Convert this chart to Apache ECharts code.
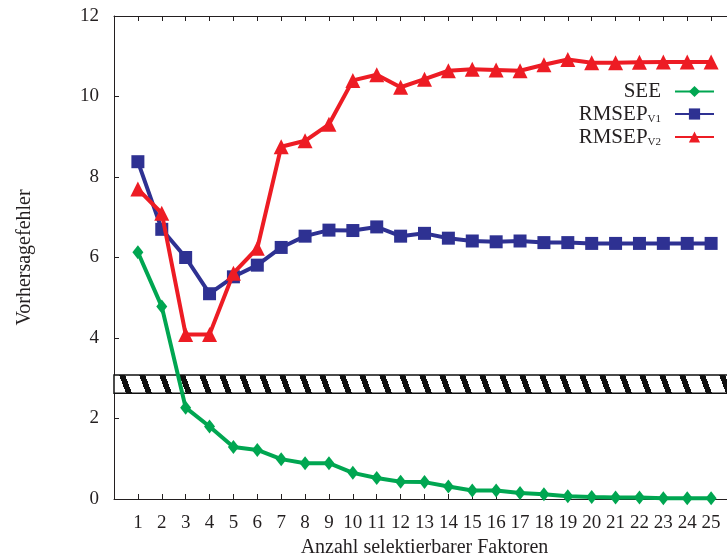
<!DOCTYPE html>
<html>
<head>
<meta charset="utf-8">
<script src="https://cdn.jsdelivr.net/npm/echarts@6/dist/echarts.min.js"></script>
<style>html,body{margin:0;padding:0;background:#fff;}#c{width:727px;height:557px;}</style>
</head>
<body>
<div id="c"></div>
<script>
const factors = [1,2,3,4,5,6,7,8,9,10,11,12,13,14,15,16,17,18,19,20,21,22,23,24,25];
const see = [6.13,4.78,2.27,1.80,1.29,1.22,0.99,0.89,0.89,0.65,0.52,0.43,0.42,0.31,0.21,0.21,0.15,0.12,0.07,0.05,0.04,0.04,0.02,0.02,0.02];
const rmsepV1 = [8.38,6.70,6.00,5.10,5.52,5.81,6.25,6.53,6.68,6.67,6.76,6.53,6.60,6.48,6.41,6.39,6.41,6.37,6.37,6.35,6.35,6.35,6.35,6.35,6.35];
const rmsepV2 = [7.70,7.10,4.09,4.09,5.61,6.23,8.75,8.90,9.31,10.40,10.54,10.23,10.43,10.64,10.68,10.66,10.64,10.79,10.92,10.84,10.84,10.85,10.86,10.86,10.86];
const bandRange = [2.63, 3.08];
const seriesNames = ['SEE', 'RMSEP{sub|V1}', 'RMSEP{sub|V2}'];

const FONT = 'Liberation Serif';
const TXT = '#231f20';

// hatch pattern
const pc = document.createElement('canvas');
pc.width = 20; pc.height = 54;
const px = pc.getContext('2d');
px.fillStyle = '#fff'; px.fillRect(0,0,20,54);
px.fillStyle = '#111';
for (let y = 0; y < 54; y++) {
  for (let x = 0; x < 20; x++) {
    const v = (((x - y * 20 / 54) % 20) + 20) % 20;
    if (v < 6) px.fillRect(x, y, 1, 1);
  }
}

const pairs = arr => factors.map((f, i) => [f, arr[i]]);

const chart = echarts.init(document.getElementById('c'), null, {renderer: 'canvas'});
const axisCommon = {
  type: 'value', min: 0, max: 26, interval: 1,
  axisLine: {show: true, lineStyle: {color: TXT, width: 1}},
  axisTick: {show: true, inside: true, length: 5, lineStyle: {color: TXT}},
  splitLine: {show: false}
};
chart.setOption({
  animation: false,
  backgroundColor: '#fff',
  grid: {left: 114, top: 16, width: 621, height: 483, containLabel: false, outerBoundsMode: 'none'},
  legend: {
    data: seriesNames.map(n => ({name: n})),
    right: 12, top: 81, orient: 'vertical', align: 'right', padding: 0,
    itemWidth: 39, itemHeight: 14, itemGap: 1,
    textStyle: {
      fontFamily: FONT, fontSize: 21, color: TXT, padding: [0, 9, 0, 0], lineHeight: 21,
      rich: {sub: {fontFamily: FONT, fontSize: 11, color: TXT, lineHeight: 10, padding: [11, 0, 0, 0]}}
    }
  },
  xAxis: [
    Object.assign({}, axisCommon, {
      position: 'bottom',
      name: 'Anzahl selektierbarer Faktoren', nameLocation: 'middle', nameGap: 38,
      nameTextStyle: {fontFamily: FONT, fontSize: 20, color: TXT},
      axisLabel: {
        fontFamily: FONT, fontSize: 19, color: TXT, margin: 15,
        formatter: v => factors.indexOf(v) >= 0 ? String(v) : ''
      }
    }),
    Object.assign({}, axisCommon, {position: 'top', axisLabel: {show: false}})
  ],
  yAxis: {
    type: 'value', min: 0, max: 12, interval: 2,
    name: 'Vorhersagefehler', nameLocation: 'middle', nameGap: 79, nameRotate: 90,
    nameTextStyle: {fontFamily: FONT, fontSize: 20, color: TXT},
    axisLine: {show: true, lineStyle: {color: TXT, width: 1}},
    axisTick: {show: true, inside: true, length: 5, lineStyle: {color: TXT}},
    axisLabel: {fontFamily: FONT, fontSize: 19, color: TXT, margin: 15},
    splitLine: {show: false}
  },
  series: [
    {
      name: seriesNames[0], type: 'line', data: pairs(see),
      symbol: 'diamond', symbolSize: [11, 14],
      lineStyle: {color: '#00a651', width: 4}, itemStyle: {color: '#00a651'},
      z: 4,
      markArea: {
        silent: true,
        itemStyle: {color: {image: pc, repeat: 'repeat'}, borderColor: '#111', borderWidth: 1.5},
        data: [[{xAxis: 0, yAxis: bandRange[0]}, {xAxis: 26, yAxis: bandRange[1]}]]
      }
    },
    {
      name: seriesNames[1], type: 'line', data: pairs(rmsepV1),
      symbol: 'rect', symbolSize: 13,
      lineStyle: {color: '#2e3192', width: 4}, itemStyle: {color: '#2e3192'},
      z: 3
    },
    {
      name: seriesNames[2], type: 'line', data: pairs(rmsepV2),
      symbol: 'triangle', symbolSize: 15,
      lineStyle: {color: '#ed1c24', width: 4}, itemStyle: {color: '#ed1c24'},
      z: 5
    }
  ]
});
</script>
</body>
</html>
